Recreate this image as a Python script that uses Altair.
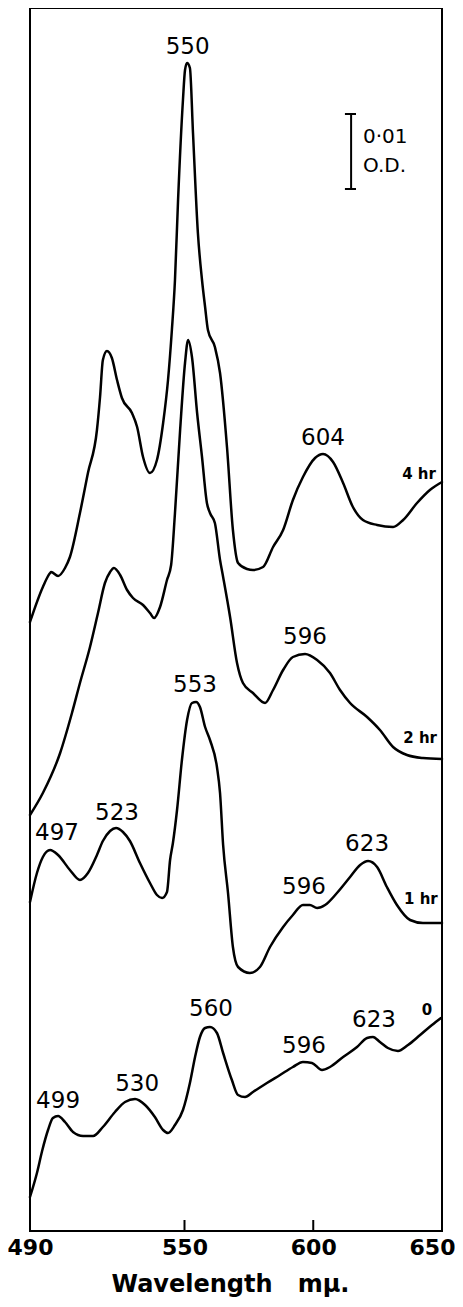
import altair as alt
import pandas as pd

# ---- spectra (wavelength in m\u00b5, absorbance in arbitrary units; 75 units = 0.01 O.D.) ----
wl_4hr = [490.0, 495.0, 497.8, 498.2, 500.9, 503.6, 505.5, 509.4, 512.5, 516.0, 517.2, 518.3,
          519.9, 521.8, 523.8, 525.7, 529.6, 531.6, 533.9, 536.6, 539.3, 541.7, 543.6, 545.1,
          546.3, 547.5, 549.4, 550.2, 551.0, 552.1, 553.3, 555.2, 556.8, 558.0, 559.1, 561.8,
          563.8, 566.5, 568.8, 570.8, 574.3, 576.6, 580.5, 584.4, 588.3, 592.1, 596.0, 600.7,
          603.8, 607.7, 611.6, 615.4, 619.3, 624.8, 631.0, 634.9, 640.3, 645.3, 650.0]
od_4hr = [609, 644, 658, 659, 655, 663, 674, 718, 758, 801, 834, 871,
          880, 873, 851, 833, 818, 804, 774, 758, 771, 808, 851, 901,
          951, 1031, 1131, 1161, 1168, 1163, 1098, 998, 951, 924, 901, 884,
          858, 784, 701, 668, 662, 661, 664, 684, 701, 731, 754, 773,
          777, 769, 748, 724, 711, 706, 704, 711, 728, 741, 749]

wl_2hr = [490.0, 495.0, 501.7, 506.3, 509.4, 513.3, 516.4, 519.1, 521.1, 522.6, 525.0, 527.7,
          530.0, 533.9, 536.6, 538.2, 540.5, 543.2, 544.8, 546.3, 548.3, 550.2, 551.4, 552.9,
          554.9, 556.8, 558.7, 559.9, 561.8, 563.8, 565.0, 567.7, 570.4, 572.7, 576.6, 581.3,
          584.4, 588.3, 592.1, 596.8, 601.5, 606.5, 610.4, 614.3, 620.9, 625.9, 631.0, 636.4,
          642.6, 650.0]
od_2hr = [416, 438, 478, 518, 548, 584, 618, 648, 659, 663, 656, 641,
          633, 626, 618, 613, 624, 651, 666, 718, 801, 868, 891, 874,
          818, 774, 728, 718, 708, 671, 654, 614, 568, 548, 538, 528,
          541, 561, 574, 577, 571, 558, 541, 528, 514, 501, 484, 476,
          473, 472]

wl_1hr = [490.0, 492.7, 495.0, 497.8, 500.9, 505.5, 509.4, 512.5, 516.0, 518.3, 521.1, 523.4,
          526.1, 528.8, 532.7, 536.6, 539.3, 541.3, 543.2, 544.4, 545.5, 547.1, 549.0, 551.0,
          552.9, 554.5, 556.0, 558.0, 559.9, 562.6, 563.8, 565.0, 566.9, 568.8, 570.8, 575.4,
          579.3, 583.2, 588.3, 592.1, 596.0, 598.7, 601.5, 604.6, 609.2, 614.3, 618.2, 621.3,
          624.8, 628.6, 632.5, 637.6, 642.6, 650.0]
od_1hr = [329, 358, 374, 381, 376, 361, 351, 358, 376, 390, 400, 403,
          399, 390, 368, 348, 336, 333, 339, 371, 388, 421, 471, 511,
          528, 529, 524, 504, 491, 464, 438, 386, 338, 284, 264, 258,
          264, 284, 304, 316, 326, 326, 323, 326, 338, 354, 366, 370,
          364, 344, 326, 311, 308, 308]

wl_0 = [490.0, 492.7, 494.7, 497.0, 498.9, 500.9, 503.6, 506.7, 510.6, 514.5, 518.3, 523.0,
        526.9, 530.8, 534.7, 538.5, 541.7, 543.6, 546.3, 549.4, 552.1, 554.1, 556.0, 558.0,
        559.9, 562.6, 565.0, 568.4, 570.8, 573.5, 576.6, 582.0, 587.1, 592.1, 596.0, 599.5,
        603.4, 606.5, 611.6, 617.0, 620.9, 623.2, 625.9, 629.0, 632.9, 636.8, 641.5, 646.1,
        649.6]
od_0 = [34, 58, 80, 101, 113, 115, 109, 99, 95, 95, 104, 119,
        129, 132, 126, 114, 101, 98, 106, 121, 148, 174, 194, 203,
        204, 198, 178, 151, 136, 134, 139, 148, 156, 164, 169, 168,
        161, 164, 174, 184, 193, 194, 189, 183, 180, 186, 196, 206,
        213]

# ---- peak annotations ----
peak_text = ["550", "604", "596", "553", "497", "523", "623", "596", "560", "623", "596", "530", "499"]
peak_wl = [551.2, 603.8, 596.8, 554.1, 500.5, 523.8, 620.9, 596.4, 560.3, 623.6, 596.4, 531.6, 500.9]
peak_od = [1184, 793, 594, 546, 398, 418, 387, 344, 222, 211, 185, 147, 130]

time_text = ["4 hr", "2 hr", "1 hr", "0"]
time_wl = [641.1, 641.5, 641.8, 644.2]
time_od = [757, 493, 332, 221]

# ---- scale bar (0.01 O.D.) ----
bar_wl = 614.7
bar_cap = [612.3, 616.6]
bar_od = [1042, 1117]
bar_text = ["0\u00b701", "O.D."]
bar_text_wl = [619.3, 619.3]
bar_text_od = [1094, 1065]

tick_wl = [550, 600]
axis_ticks = [490, 550, 600, 650]

FONT = "DejaVu Sans"

rows = []
for name, wl, od in [("4 hr", wl_4hr, od_4hr), ("2 hr", wl_2hr, od_2hr),
                     ("1 hr", wl_1hr, od_1hr), ("0", wl_0, od_0)]:
    rows += [{"series": name, "wl": w, "od": o} for w, o in zip(wl, od)]
df = pd.DataFrame(rows)

xscale = alt.Scale(domain=[490, 650], nice=False, zero=False)
yscale = alt.Scale(domain=[0, 1223], nice=False, zero=False)

xaxis = alt.Axis(values=axis_ticks, format="d", ticks=False, tickSize=0, domain=False, grid=False,
                 labelFont=FONT, labelFontSize=22, labelFontWeight="bold", labelColor="black",
                 labelPadding=6, labelFlush=False, labelOverlap=False,
                 labelOffset={"condition": {"test": "datum.value == 650", "value": -10}, "value": 0},
                 title="Wavelength\u00a0\u00a0\u00a0m\u00b5.", titleFont=FONT, titleFontSize=24,
                 titleFontWeight="bold", titleColor="black", titleX=200, titleY=60,
                 titleBaseline="alphabetic", titleAlign="center")

lines = alt.Chart(df).mark_line(color="black", strokeWidth=2.5, interpolate="monotone",
                                strokeJoin="round", strokeCap="round").encode(
    x=alt.X("wl:Q", scale=xscale, axis=xaxis),
    y=alt.Y("od:Q", scale=yscale, axis=None),
    detail="series:N",
)

ticks = alt.Chart(pd.DataFrame({"wl": tick_wl})).mark_rule(color="black", strokeWidth=2).encode(
    x=alt.X("wl:Q", scale=xscale),
    y=alt.value(1223),
    y2=alt.value(1212),
)

peaks = alt.Chart(pd.DataFrame({"wl": peak_wl, "od": peak_od, "t": peak_text})).mark_text(
    font=FONT, fontSize=23, color="black", baseline="middle", align="center").encode(
    x=alt.X("wl:Q", scale=xscale), y=alt.Y("od:Q", scale=yscale), text="t:N")

times = alt.Chart(pd.DataFrame({"wl": time_wl, "od": time_od, "t": time_text})).mark_text(
    font=FONT, fontSize=15, fontWeight="bold", color="black", baseline="middle", align="center").encode(
    x=alt.X("wl:Q", scale=xscale), y=alt.Y("od:Q", scale=yscale), text="t:N")

bar_v = alt.Chart(pd.DataFrame({"wl": [bar_wl], "y1": [bar_od[0]], "y2": [bar_od[1]]})).mark_rule(
    color="black", strokeWidth=2).encode(
    x=alt.X("wl:Q", scale=xscale), y=alt.Y("y1:Q", scale=yscale), y2="y2:Q")

bar_caps = alt.Chart(pd.DataFrame({"x1": [bar_cap[0]] * 2, "x2": [bar_cap[1]] * 2, "od": bar_od})).mark_rule(
    color="black", strokeWidth=2).encode(
    x=alt.X("x1:Q", scale=xscale), x2="x2:Q", y=alt.Y("od:Q", scale=yscale))

bar_lbl = alt.Chart(pd.DataFrame({"wl": bar_text_wl, "od": bar_text_od, "t": bar_text})).mark_text(
    font=FONT, fontSize=20, color="black", baseline="middle", align="left").encode(
    x=alt.X("wl:Q", scale=xscale), y=alt.Y("od:Q", scale=yscale), text="t:N")

chart = alt.layer(lines, ticks, peaks, times, bar_v, bar_caps, bar_lbl).properties(
    width=412, height=1223,
    autosize=alt.AutoSizeParams(type="none"),
    padding={"left": 22, "top": 0, "right": 13, "bottom": 68},
    background="white",
).configure_view(stroke="black", strokeWidth=2)

chart.save("out.html", embed_options={"renderer": "svg", "actions": False})
